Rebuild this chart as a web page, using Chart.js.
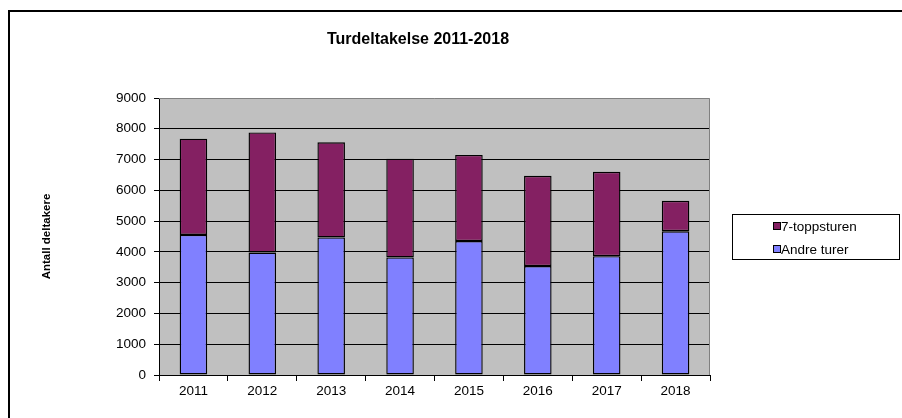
<!DOCTYPE html>
<html>
<head>
<meta charset="utf-8">
<script src="https://cdn.jsdelivr.net/npm/chart.js@4"></script>
<style>
  html, body { margin: 0; padding: 0; background: #fff; }
  #wrap { width: 902px; height: 418px; position: relative; }
</style>
</head>
<body>
<div id="wrap"><canvas id="chart" width="902" height="418"></canvas></div>
<script>
const years = ['2011', '2012', '2013', '2014', '2015', '2016', '2017', '2018'];
const andreTurer = [4550, 3980, 4470, 3820, 4350, 3540, 3860, 4670];
const toppsturen = [3130, 3900, 3090, 3210, 2800, 2930, 2740, 990];
const chartTitle = 'Turdeltakelse 2011-2018';
const yTitle = 'Antall deltakere';

const font = "'Liberation Sans', Arial, sans-serif";

// frame, plot background, title and boxed legend the way the old excel chart looks
const decor = {
  id: 'decor',
  beforeDraw(chart) {
    const { ctx, chartArea: a } = chart;
    ctx.save();
    ctx.fillStyle = '#fff';
    ctx.fillRect(0, 0, chart.width, chart.height);
    ctx.strokeStyle = '#000';
    ctx.lineWidth = 2;
    ctx.beginPath();
    ctx.moveTo(9, 440);
    ctx.lineTo(9, 11);
    ctx.lineTo(910, 11);
    ctx.stroke();
    ctx.fillStyle = '#c0c0c0';
    ctx.fillRect(a.left, a.top, a.right - a.left, a.bottom - a.top);
    ctx.restore();
  },
  afterDraw(chart) {
    const { ctx, chartArea: a } = chart;
    ctx.save();
    ctx.strokeStyle = '#808080';
    ctx.lineWidth = 1;
    ctx.beginPath();
    ctx.moveTo(a.left, a.top + 0.5);
    ctx.lineTo(a.right - 0.5, a.top + 0.5);
    ctx.lineTo(a.right - 0.5, a.bottom);
    ctx.stroke();

    ctx.fillStyle = '#000';
    ctx.font = 'bold 16px ' + font;
    ctx.textAlign = 'center';
    ctx.textBaseline = 'middle';
    ctx.fillText(chartTitle, 418, 40);

    // legend, top series first
    const lx = 732, ly = 214, lw = 167, lh = 45;
    ctx.lineWidth = 1;
    ctx.strokeStyle = '#000';
    ctx.strokeRect(lx + 0.5, ly + 0.5, lw, lh);
    ctx.font = '13.5px ' + font;
    ctx.textAlign = 'left';
    const items = chart.data.datasets.slice().reverse();
    items.forEach((ds, i) => {
      const y = ly + 12 + i * 23;
      ctx.fillStyle = ds.backgroundColor;
      ctx.fillRect(773, y - 3.5, 7, 7);
      ctx.strokeRect(773.5, y - 3.5, 7, 7);
      ctx.fillStyle = '#000';
      ctx.fillText(ds.label, 781, y + 1);
    });
    ctx.restore();
  }
};

new Chart(document.getElementById('chart'), {
  type: 'bar',
  data: {
    labels: years,
    datasets: [
      {
        label: 'Andre turer',
        data: andreTurer,
        backgroundColor: '#8080ff',
        borderColor: '#000',
        borderWidth: 1.4,
        borderSkipped: false,
        inflateAmount: 0
      },
      {
        label: '7-toppsturen',
        data: toppsturen,
        backgroundColor: '#842062',
        borderColor: '#000',
        borderWidth: 1.4,
        borderSkipped: false,
        inflateAmount: 0
      }
    ]
  },
  options: {
    responsive: false,
    animation: false,
    devicePixelRatio: 1,
    layout: { padding: { left: 40, top: 98, right: 192, bottom: 0 } },
    datasets: { bar: { barPercentage: 0.4, categoryPercentage: 1 } },
    plugins: {
      legend: { display: false },
      title: { display: false },
      tooltip: { enabled: false }
    },
    scales: {
      x: {
        stacked: true,
        offset: true,
        grid: {
          offset: true,
          drawOnChartArea: false,
          drawTicks: true,
          tickLength: 6,
          color: '#000'
        },
        border: { color: '#000', width: 1 },
        ticks: { color: '#000', font: { family: font, size: 13.5 }, padding: 2, maxRotation: 0 },
        afterFit(scale) { scale.height = 43; }
      },
      y: {
        stacked: true,
        min: 0,
        max: 9000,
        grid: {
          color: ctx => ctx.tick && ctx.tick.value === 9000 ? 'rgba(0,0,0,0)' : '#000',
          tickColor: '#000',
          tickLength: 5
        },
        border: { color: '#000', width: 1 },
        ticks: {
          stepSize: 1000,
          color: '#000',
          font: { family: font, size: 13.5 },
          padding: 8,
          callback: v => String(v)
        },
        title: {
          display: true,
          text: yTitle,
          color: '#000',
          font: { family: font, size: 11.5, weight: 'bold' },
          padding: 0
        },
        afterFit(scale) { scale.width = 119; }
      }
    }
  },
  plugins: [decor]
});
</script>
</body>
</html>
